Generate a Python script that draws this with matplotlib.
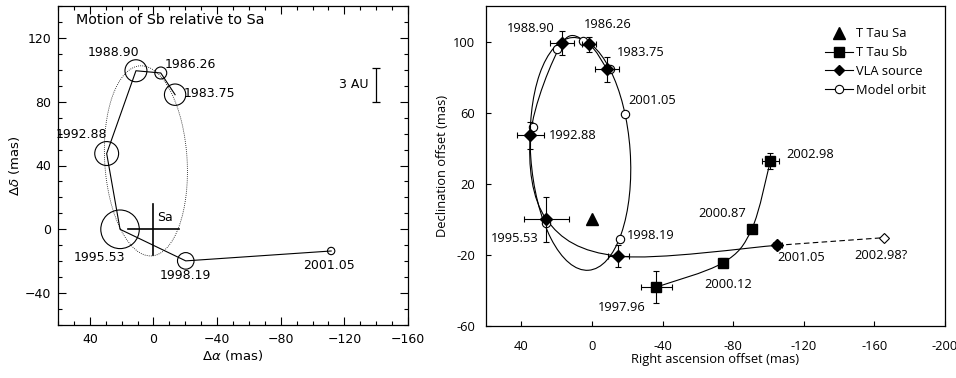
import numpy as np
import matplotlib
matplotlib.use("Agg")
import matplotlib.pyplot as plt
from matplotlib.patches import Circle, Ellipse, PathPatch
from matplotlib.path import Path
from matplotlib.ticker import MultipleLocator, FixedLocator

# ---- left panel: motion of Sb relative to Sa (mas) ----
left_epochs = ["1983.75", "1986.26", "1988.90", "1992.88", "1995.53", "1998.19", "2001.05"]
left_ra = [-13.6, -4.6, 11.0, 29.4, 21.0, -20.3, -111.7]
left_dec = [84.4, 98.0, 99.4, 47.5, 0.0, -19.8, -13.6]
left_err = [6.7, 3.75, 6.9, 7.5, 12.1, 5.2, 2.3]
# dotted orbit: centre, semi-axes, tilt
left_orbit = dict(ra=4.75, dec=42.9, a=59.7, b=25.9, tilt=-3.5)
au3_mas = 21.4   # 3 AU scale bar length

# ---- right panel ----
vla_epochs = ["1983.75", "1986.26", "1988.90", "1992.88", "1995.53", "1998.19", "2001.05"]
vla_ra = [-8.5, 1.8, 16.8, 34.8, 25.8, -14.9, -105.0]
vla_dec = [84.5, 98.4, 99.3, 47.3, 0.0, -20.7, -14.6]
vla_ra_err = [7.0, 4.0, 6.9, 7.7, 12.6, 6.0, 2.5]
vla_dec_err = [7.0, 4.0, 6.7, 7.5, 12.7, 6.0, 2.0]
vla_guess_epoch = "2002.98?"
vla_guess_ra, vla_guess_dec = -165.7, -10.3

sb_epochs = ["1997.96", "2000.12", "2000.87", "2002.98"]
sb_ra = [-36.5, -74.3, -90.6, -101.1]
sb_dec = [-38.1, -24.4, -5.4, 32.9]
sb_ra_err = [8.9, 2.0, 2.0, 5.0]
sb_dec_err = [9.0, 2.6, 2.0, 4.5]

model_epochs = ["1983.75", "1986.26", "1988.90", "1992.88", "1995.53", "1998.19", "2001.05"]
model_ra = [-10.4, 4.8, 19.8, 33.3, 25.8, -15.9, -18.9]
model_dec = [84.5, 100.3, 95.6, 52.0, -2.1, -10.9, 59.5]
model_orbit = dict(ra=6.5, dec=36.8, a=65.6, b=28.2, tilt=-4.0)

sa_ra, sa_dec = 0.0, 0.0


def smooth_path(xs, ys):
    """Catmull-Rom through the points, as cubic Bezier segments."""
    p = np.column_stack([xs, ys]).astype(float)
    ext = np.vstack([p[0], p, p[-1]])
    verts, codes = [p[0]], [Path.MOVETO]
    for i in range(1, len(ext) - 2):
        p0, p1, p2, p3 = ext[i - 1], ext[i], ext[i + 1], ext[i + 2]
        verts += [p1 + (p2 - p0) / 6, p2 - (p3 - p1) / 6, p2]
        codes += [Path.CURVE4] * 3
    return Path(verts, codes)


fig = plt.figure(figsize=(9.56, 3.78), dpi=100)

# =================== left panel ===================
axl = fig.add_axes([58 / 956, 53 / 378, 350 / 956, 319 / 378])
lfont = dict(family="DejaVu Sans", size=9)
axl.plot(left_ra, left_dec, color="black", lw=0.8)
for x, y, r in zip(left_ra, left_dec, left_err):
    axl.add_patch(Circle((x, y), r, fill=False, lw=0.8, ec="black"))
o = left_orbit
axl.add_patch(Ellipse((o["ra"], o["dec"]), 2 * o["b"], 2 * o["a"], angle=o["tilt"],
                      fill=False, ls=(0, (1, 1.5)), lw=0.6, ec="black"))
# Sa cross
axl.plot([16, -16], [0, 0], color="black", lw=1.2)
axl.plot([0, 0], [16, -16], color="black", lw=1.2)
axl.annotate("Sa", (sa_ra, sa_dec), xytext=(12, 12), textcoords="offset pixels",
             ha="center", va="center", **lfont)
# 3 AU bar
axl.errorbar([-140], [80 + au3_mas / 2], yerr=au3_mas / 2, color="black",
             lw=0.9, capsize=3, capthick=0.9)
axl.annotate("3 AU", (-140, 80 + au3_mas / 2), xytext=(-8, 0), textcoords="offset pixels",
             ha="right", va="center", **lfont)

left_offsets = [(34, 1), (30, 8), (-22, 18), (-25, 19), (-21, -28), (0, -15), (-2, -15)]
for lab, x, y, off in zip(left_epochs, left_ra, left_dec, left_offsets):
    axl.annotate(lab, (x, y), xytext=off, textcoords="offset pixels",
                 ha="center", va="center", **lfont)

axl.text(0.05, 0.955, "Motion of Sb relative to Sa", transform=axl.transAxes,
         ha="left", va="center", family="DejaVu Sans", size=10.3)
axl.set_xlim(60, -160)
axl.set_ylim(-60, 140)
axl.xaxis.set_major_locator(MultipleLocator(40))
axl.xaxis.set_minor_locator(MultipleLocator(10))
axl.yaxis.set_major_locator(FixedLocator([-40, 0, 40, 80, 120]))
axl.yaxis.set_minor_locator(MultipleLocator(10))
axl.tick_params(which="both", direction="in", top=True, right=True, labelsize=9, width=0.8)
axl.tick_params(which="major", length=6)
axl.tick_params(which="minor", length=3)
axl.tick_params(axis="y", pad=5)
axl.tick_params(axis="x", pad=6)
axl.set_xlabel(r"$\Delta\alpha$ (mas)", fontsize=9.5, labelpad=1)
axl.set_ylabel(r"$\Delta\delta$ (mas)", fontsize=9.5, labelpad=2)
for s in axl.spines.values():
    s.set_linewidth(0.9)

# =================== right panel ===================
rsize = 9.3
rfont = dict(family="Open Sans", size=rsize)
axr = fig.add_axes([486 / 956, 52 / 378, 459 / 956, 320 / 378])

o = model_orbit
axr.add_patch(Ellipse((o["ra"], o["dec"]), 2 * o["b"], 2 * o["a"], angle=o["tilt"],
                      fill=False, lw=0.8, ec="black"))
axr.add_patch(PathPatch(smooth_path(vla_ra, vla_dec), fill=False, lw=0.8, ec="black"))
axr.add_patch(PathPatch(smooth_path(sb_ra, sb_dec), fill=False, lw=0.8, ec="black"))
axr.plot([vla_ra[-1], vla_guess_ra], [vla_dec[-1], vla_guess_dec], color="black",
         lw=0.8, ls=(0, (5, 3)))

axr.plot(model_ra, model_dec, ls="none", marker="o", ms=6, mfc="white", mec="black", mew=0.8)
axr.errorbar(vla_ra, vla_dec, xerr=vla_ra_err, yerr=vla_dec_err, fmt="D", ms=6,
             color="black", elinewidth=0.8, capsize=2.5, capthick=0.8)
axr.errorbar(sb_ra, sb_dec, xerr=sb_ra_err, yerr=sb_dec_err, fmt="s", ms=6.5,
             color="black", elinewidth=0.8, capsize=2.5, capthick=0.8)
axr.plot([vla_guess_ra], [vla_guess_dec], ls="none", marker="D", ms=5.5,
         mfc="white", mec="black", mew=0.8)
axr.plot([sa_ra], [sa_dec], ls="none", marker="^", ms=8, color="black")

vla_offsets = [(34, 17), (19, 20), (-32, 14), (42, 0), (-32, -19), None, (24, -12)]
for lab, x, y, off in zip(vla_epochs, vla_ra, vla_dec, vla_offsets):
    if off is not None:
        axr.annotate(lab, (x, y), xytext=off, textcoords="offset pixels",
                     ha="center", va="center", **rfont)
model_offsets = [None, None, None, None, None, (31, 3), (27, 13)]
for lab, x, y, off in zip(model_epochs, model_ra, model_dec, model_offsets):
    if off is not None:
        axr.annotate(lab, (x, y), xytext=off, textcoords="offset pixels",
                     ha="center", va="center", **rfont)
sb_offsets = [(-35, -20), (5, -22), (-30, 15), (40, 6)]
for lab, x, y, off in zip(sb_epochs, sb_ra, sb_dec, sb_offsets):
    axr.annotate(lab, (x, y), xytext=off, textcoords="offset pixels",
                 ha="center", va="center", **rfont)
axr.annotate(vla_guess_epoch, (vla_guess_ra, vla_guess_dec), xytext=(-4, -18),
             textcoords="offset pixels", ha="center", va="center", **rfont)

# legend
handles = [
    plt.Line2D([], [], ls="none", marker="^", ms=8, color="black"),
    plt.Line2D([], [], color="black", lw=0.8, marker="s", ms=6.5),
    plt.Line2D([], [], color="black", lw=0.8, marker="D", ms=5.5),
    plt.Line2D([], [], color="black", lw=0.8, marker="o", ms=6, mfc="white", mew=0.8),
]
axr.legend(handles, ["T Tau Sa", "T Tau Sb", "VLA source", "Model orbit"],
           loc="upper left", bbox_to_anchor=(0.738, 0.934), frameon=False,
           prop={"family": "Open Sans", "size": rsize}, handlelength=2.2,
           handletextpad=0.25, labelspacing=0.46, borderpad=0, borderaxespad=0)

axr.set_xlim(60, -200)
axr.set_ylim(-60, 120)
axr.set_xticks([40, 0, -40, -80, -120, -160, -200])
axr.set_xticklabels(["40", "0", "-40", "-80", "-120", "-160", "-200"])
axr.set_yticks([-60, -20, 20, 60, 100])
axr.set_yticklabels(["-60", "-20", "20", "60", "100"])
axr.tick_params(direction="in", length=3.5, width=0.8, labelsize=rsize, labelfontfamily="Open Sans")
axr.tick_params(axis="x", pad=10)
axr.tick_params(axis="y", pad=8)
axr.set_xlabel("Right ascension offset (mas)", fontfamily="Open Sans", fontsize=rsize, labelpad=0)
axr.set_ylabel("Declination offset (mas)", fontfamily="Open Sans", fontsize=rsize, labelpad=3)
for s in axr.spines.values():
    s.set_linewidth(0.9)

fig.savefig("out.png", dpi=100)
